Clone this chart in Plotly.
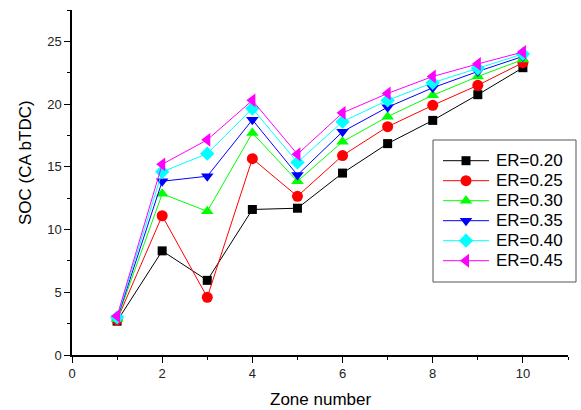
import plotly.graph_objects as go

# Zone index along the x axis
zones = [1, 2, 3, 4, 5, 6, 7, 8, 9, 10]

# SOC (CA bTDC) per zone for each equivalence ratio
soc_er020 = [2.7, 8.3, 5.95, 11.6, 11.7, 14.5, 16.85, 18.7, 20.75, 22.9]
soc_er025 = [2.8, 11.1, 4.6, 15.65, 12.65, 15.9, 18.2, 19.9, 21.5, 23.3]
soc_er030 = [2.85, 12.85, 11.45, 17.7, 13.85, 17.0, 19.0, 20.7, 22.2, 23.55]
soc_er035 = [2.9, 13.85, 14.25, 18.75, 14.35, 17.8, 19.75, 21.3, 22.6, 23.8]
soc_er040 = [3.0, 14.6, 16.05, 19.65, 15.35, 18.6, 20.3, 21.7, 22.85, 24.0]
soc_er045 = [3.1, 15.2, 17.15, 20.3, 16.0, 19.3, 20.85, 22.2, 23.2, 24.15]

series_names = ["ER=0.20", "ER=0.25", "ER=0.30", "ER=0.35", "ER=0.40", "ER=0.45"]
series_values = [soc_er020, soc_er025, soc_er030, soc_er035, soc_er040, soc_er045]
colors = ["#000000", "#ff0000", "#00ff00", "#0000ff", "#00ffff", "#ff00ff"]
symbols = ["square", "circle", "triangle-up", "triangle-down", "diamond", "triangle-left"]
sizes = [9, 11, 11, 11, 11, 12]

FONT = "Arial, Liberation Sans, sans-serif"

# Figure geometry (pixels) used to place the hand-built legend box
W, H = 581, 410
ML, MR, MT, MB = 72, 13, 10, 55
PW, PH = W - ML - MR, H - MT - MB


def px_x(p):
    return (p - ML) / PW


def px_y(p):
    return (H - MB - p) / PH


fig = go.Figure()
for name, vals, col, sym, sz in zip(series_names, series_values, colors, symbols, sizes):
    fig.add_trace(go.Scatter(
        x=zones, y=vals, name=name, mode="lines+markers",
        line=dict(color=col, width=1),
        marker=dict(color=col, symbol=sym, size=sz, line=dict(width=0)),
        showlegend=False,
    ))

# Legend: framed box with a line sample, marker and label for each series
box_l, box_r, box_t, box_b = 433, 576, 140, 282
row0, row_step = 160.7, 20
line_l, line_r, mark_x, text_l = 443, 489, 466, 494

shapes = [dict(type="rect", xref="paper", yref="paper",
               x0=px_x(box_l), x1=px_x(box_r), y0=px_y(box_b), y1=px_y(box_t),
               line=dict(color="#555555", width=1), fillcolor="rgba(0,0,0,0)",
               layer="above")]
annotations = []
for i, (name, col, sym, sz) in enumerate(zip(series_names, colors, symbols, sizes)):
    yy = px_y(row0 + i * row_step)
    shapes.append(dict(type="line", xref="paper", yref="paper",
                       x0=px_x(line_l), x1=px_x(line_r), y0=yy, y1=yy,
                       line=dict(color=col, width=1), layer="above"))
    fig.add_trace(go.Scatter(
        x=[px_x(mark_x)], y=[yy], xaxis="x2", yaxis="y2", mode="markers",
        marker=dict(color=col, symbol=sym, size=sz, line=dict(width=0)),
        showlegend=False, hoverinfo="skip", cliponaxis=False,
    ))
    annotations.append(dict(text=name, xref="paper", yref="paper",
                            x=px_x(text_l), y=yy, xanchor="left", yanchor="middle",
                            showarrow=False,
                            font=dict(family=FONT, size=17, color="#000000")))

annotations += [
    dict(text="Zone number", xref="paper", yref="paper", x=0.5, y=px_y(400),
         xanchor="center", yanchor="middle", showarrow=False,
         font=dict(family=FONT, size=17, color="#000000")),
    dict(text="SOC (CA bTDC)", xref="paper", yref="paper", x=px_x(25), y=px_y(163),
         xanchor="center", yanchor="middle", showarrow=False, textangle=-90,
         font=dict(family=FONT, size=17, color="#000000")),
]

axis_common = dict(
    showline=True, linecolor="#000000", linewidth=1.5,
    ticks="outside", ticklen=6, tickwidth=1, tickcolor="#000000",
    showgrid=False, zeroline=False, mirror=False,
    tickfont=dict(family=FONT, size=13, color="#222222"),
)

fig.update_layout(
    width=W, height=H,
    margin=dict(l=ML, r=MR, t=MT, b=MB),
    paper_bgcolor="white", plot_bgcolor="white",
    font=dict(family=FONT, color="#000000"),
    showlegend=False,
    xaxis=dict(range=[0, 11], tickmode="linear", tick0=0, dtick=2,
               minor=dict(ticks="outside", ticklen=3, dtick=1, tickcolor="#000000"),
               **axis_common),
    yaxis=dict(range=[0, 27.5], tickmode="linear", tick0=0, dtick=5,
               minor=dict(ticks="outside", ticklen=3, dtick=2.5, tickcolor="#000000"),
               **axis_common),
    # overlay axes spanning the plot area in unit coordinates for legend markers
    xaxis2=dict(overlaying="x", range=[0, 1], visible=False, fixedrange=True),
    yaxis2=dict(overlaying="y", range=[0, 1], visible=False, fixedrange=True),
    shapes=shapes,
    annotations=annotations,
)

fig.write_html("out.html")
